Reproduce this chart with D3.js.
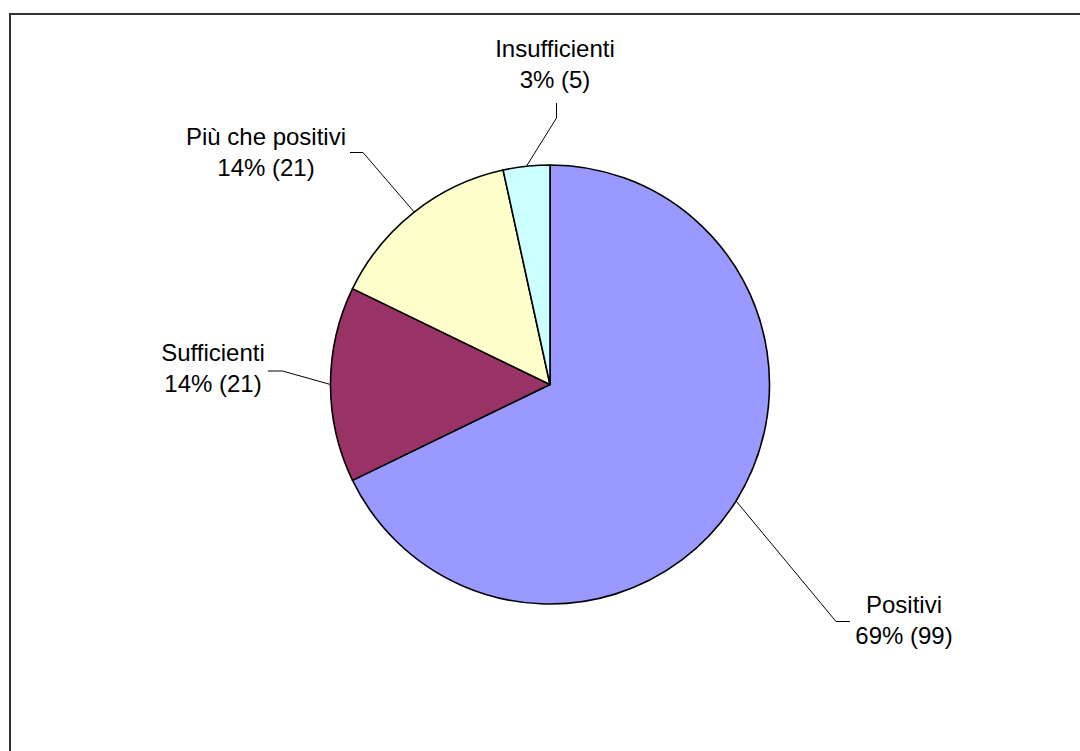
<!DOCTYPE html>
<html>
<head>
<meta charset="utf-8">
<script src="https://cdn.jsdelivr.net/npm/d3@7"></script>
<style>
  html, body { margin: 0; padding: 0; background: #fff; }
  svg { display: block; }
  text { font-family: "Liberation Sans", Arial, sans-serif; fill: #000; }
</style>
</head>
<body>
<svg id="chart" width="1080" height="751"></svg>
<script>
// Ratings and how many students fell in each
const categories = ["Positivi", "Sufficienti", "Più che positivi", "Insufficienti"];
const counts = [99, 21, 21, 5];
const percentLabels = ["69%", "14%", "14%", "3%"];
const sliceColors = ["#9999FF", "#993366", "#FFFFCC", "#CCFFFF"];

// Where each label sits: text centre + first baseline, and the leader's elbow/end
const labelLayout = [
  { tx: 904, ty: 612.5, elbow: [836, 621.5], end: [850, 621.5] },
  { tx: 213, ty: 360.5, elbow: [282.5, 371], end: [268, 371] },
  { tx: 266, ty: 144.5, elbow: [363, 152.5], end: [350, 152.5] },
  { tx: 555, ty: 56.5, elbow: [556.5, 118], end: [556.5, 103] }
];

const svg = d3.select("#chart");
const cx = 550, cy = 384.5, radius = 219.5;

// Outer chart frame (runs off the right and bottom edges)
svg.append("rect")
  .attr("x", 10).attr("y", 14)
  .attr("width", 1200).attr("height", 900)
  .attr("fill", "#fff")
  .attr("stroke", "#333")
  .attr("stroke-width", 2);

const data = categories.map((c, i) => ({
  name: c, value: counts[i], pct: percentLabels[i], color: sliceColors[i], layout: labelLayout[i]
}));

const pie = d3.pie().value(d => d.value).sort(null).startAngle(0).endAngle(2 * Math.PI);
const arcs = pie(data);
const arc = d3.arc().innerRadius(0).outerRadius(radius);

const g = svg.append("g").attr("transform", `translate(${cx},${cy})`);

g.selectAll("path.slice")
  .data(arcs)
  .join("path")
  .attr("class", "slice")
  .attr("d", arc)
  .attr("fill", d => d.data.color)
  .attr("stroke", "#000")
  .attr("stroke-width", 1.6)
  .attr("stroke-linejoin", "round");

// Leader lines from the middle of each slice's rim to its label
const rim = d3.arc().innerRadius(radius).outerRadius(radius);
arcs.forEach(d => {
  const [mx, my] = rim.centroid(d);
  const L = d.data.layout;
  svg.append("polyline")
    .attr("points", [[cx + mx, cy + my], L.elbow, L.end].map(p => p.join(",")).join(" "))
    .attr("fill", "none")
    .attr("stroke", "#000")
    .attr("stroke-width", 1);

  const t = svg.append("text")
    .attr("text-anchor", "middle")
    .attr("font-size", 24);
  t.append("tspan").attr("x", L.tx).attr("y", L.ty).text(d.data.name);
  t.append("tspan").attr("x", L.tx).attr("y", L.ty + 31.5).text(`${d.data.pct} (${d.data.value})`);
});
</script>
</body>
</html>
